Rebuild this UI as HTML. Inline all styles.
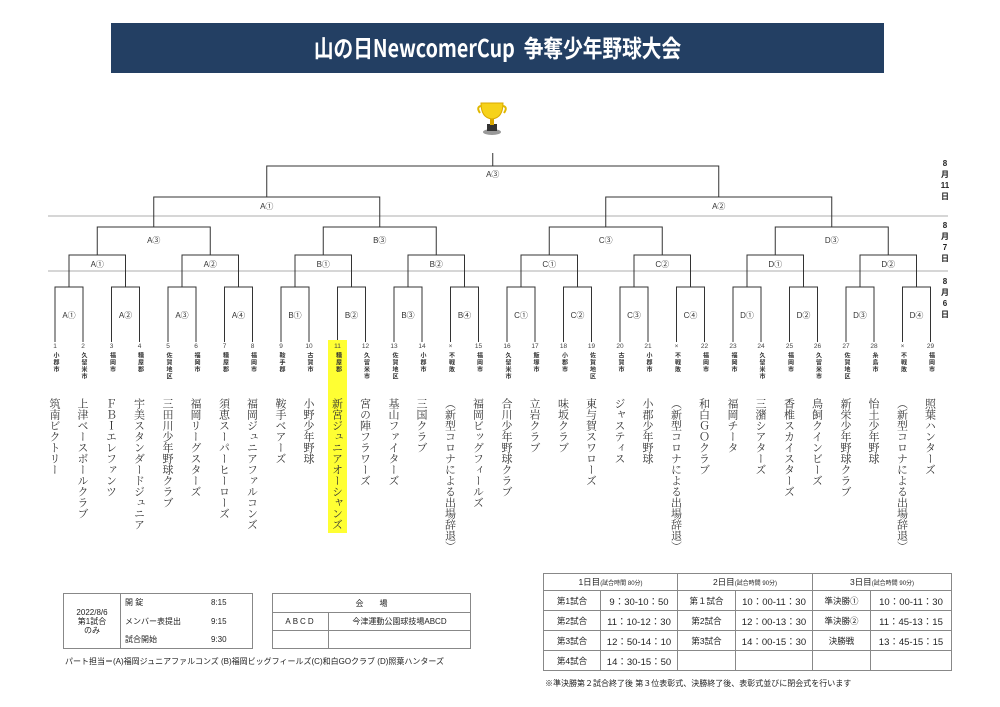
<!DOCTYPE html>
<html><head><meta charset="utf-8">
<style>
body{margin:0;background:#fff;}
#p{position:relative;width:1000px;height:707px;overflow:hidden;font-family:"Liberation Sans","Noto Sans CJK JP",sans-serif;color:#222;}
.hdr{position:absolute;left:111px;top:23px;width:773px;height:50px;background:#233f63;}
.ttl{position:absolute;left:0;top:9px;width:773px;text-align:center;color:#fff;font-weight:bold;font-size:24px;font-family:"Noto Sans CJK JP",sans-serif;transform:scaleX(0.82);line-height:30px;}
.t{position:absolute;top:343px;width:16px;height:200px;text-align:center;}
.n{font-size:6.5px;line-height:8px;color:#444;}
.c{position:absolute;top:9px;left:4px;writing-mode:vertical-rl;text-align:start;font-size:6px;font-weight:bold;line-height:8px;letter-spacing:1px;color:#333;height:40px;}
.nm{position:absolute;top:55px;left:1px;width:14px;height:200px;writing-mode:vertical-rl;text-align:start;font-family:"Noto Serif CJK SC","Noto Serif CJK JP",serif;font-size:11px;line-height:14px;letter-spacing:0;color:#333;}
.hl{position:absolute;left:328px;top:340px;width:19px;height:193px;background:#ffff33;}
.dt{position:absolute;left:939px;width:12px;text-align:center;font-size:8px;font-weight:bold;line-height:11px;}
table{border-collapse:collapse;position:absolute;font-size:8px;}
td{border:1px solid #888;text-align:center;padding:0;}
</style></head><body><div id="p">
<div class="hdr"><div class="ttl">山の日NewcomerCup&nbsp; 争奪少年野球大会</div></div>

<svg style="position:absolute;left:0;top:0" width="1000" height="707">
<g>
<ellipse cx="492" cy="132" rx="9" ry="3" fill="#999"/>
<rect x="487" y="124" width="10" height="7" fill="#333"/>
<rect x="490" y="117" width="4" height="8" fill="#d9a800"/>
<path d="M481 103 H503 Q503 118 492 119 Q481 118 481 103Z" fill="#f6d21a" stroke="#d9a800" stroke-width="1"/>
<path d="M481 106 Q476 107 480 113 M503 106 Q508 107 504 113" fill="none" stroke="#e0b800" stroke-width="2"/>
</g>
<g stroke="#c8c8c8" stroke-width="1.5"><line x1="48" y1="216" x2="948" y2="216"/><line x1="48" y1="271" x2="948" y2="271"/></g>
<g fill="none" stroke="#333" stroke-width="1">
<path d="M492.75 153V166"/>
<path d="M266.75 197V166H718.75V197"/>
<path d="M153.75 227V197H379.75V227M605.75 227V197H831.75V227"/>
<path d="M97.25 255V227H210.25V255M323.25 255V227H436.25V255M549.25 255V227H662.25V255M775.25 255V227H888.25V255"/>
<path d="M69 287V255H125.5V287M182 287V255H238.5V287M295 287V255H351.5V287M408 287V255H464.5V287M521 287V255H577.5V287M634 287V255H690.5V287M747 287V255H803.5V287M860 287V255H916.5V287"/>
<path d="M55 342V287H83V342M111.5 342V287H139.5V342M168 342V287H196V342M224.5 342V287H252.5V342M281 342V287H309V342M337.5 342V287H365.5V342M394 342V287H422V342M450.5 342V287H478.5V342M507 342V287H535V342M563.5 342V287H591.5V342M620 342V287H648V342M676.5 342V287H704.5V342M733 342V287H761V342M789.5 342V287H817.5V342M846 342V287H874V342M902.5 342V287H930.5V342"/>
</g>
<g font-size="8" text-anchor="middle" fill="#333" font-family="Liberation Sans,Noto Sans CJK JP,sans-serif">
<text x="492.75" y="177">A③</text>
<text x="266.75" y="209">A①</text><text x="718.75" y="209">A②</text>
<text x="153.75" y="243">A③</text><text x="379.75" y="243">B③</text><text x="605.75" y="243">C③</text><text x="831.75" y="243">D③</text>
<text x="97.25" y="267">A①</text><text x="210.25" y="267">A②</text><text x="323.25" y="267">B①</text><text x="436.25" y="267">B②</text><text x="549.25" y="267">C①</text><text x="662.25" y="267">C②</text><text x="775.25" y="267">D①</text><text x="888.25" y="267">D②</text>
<text x="69" y="318">A①</text><text x="125.5" y="318">A②</text><text x="182" y="318">A③</text><text x="238.5" y="318">A④</text><text x="295" y="318">B①</text><text x="351.5" y="318">B②</text><text x="408" y="318">B③</text><text x="464.5" y="318">B④</text><text x="521" y="318">C①</text><text x="577.5" y="318">C②</text><text x="634" y="318">C③</text><text x="690.5" y="318">C④</text><text x="747" y="318">D①</text><text x="803.5" y="318">D②</text><text x="860" y="318">D③</text><text x="916.5" y="318">D④</text>
</g>
</svg>

<div class="dt" style="top:158px">8<br>月<br>11<br>日</div>
<div class="dt" style="top:220px">8<br>月<br>7<br>日</div>
<div class="dt" style="top:276px">8<br>月<br>6<br>日</div>

<div class="hl"></div>

<div class="t" style="left:47px"><div class="n">1</div><div class="c">小郡市</div><div class="nm">筑南ビクトリー</div></div>
<div class="t" style="left:75px"><div class="n">2</div><div class="c">久留米市</div><div class="nm">上津ベースボールクラブ</div></div>
<div class="t" style="left:103.5px"><div class="n">3</div><div class="c">福岡市</div><div class="nm">ＦＢＩエレファンツ</div></div>
<div class="t" style="left:131.5px"><div class="n">4</div><div class="c">糟屋郡</div><div class="nm">宇美スタンダードジュニア</div></div>
<div class="t" style="left:160px"><div class="n">5</div><div class="c">佐賀地区</div><div class="nm">三田川少年野球クラブ</div></div>
<div class="t" style="left:188px"><div class="n">6</div><div class="c">福岡市</div><div class="nm">福岡リーグスターズ</div></div>
<div class="t" style="left:216.5px"><div class="n">7</div><div class="c">糟屋郡</div><div class="nm">須恵スーパーヒーローズ</div></div>
<div class="t" style="left:244.5px"><div class="n">8</div><div class="c">福岡市</div><div class="nm">福岡ジュニアファルコンズ</div></div>
<div class="t" style="left:273px"><div class="n">9</div><div class="c">鞍手郡</div><div class="nm">鞍手ベアーズ</div></div>
<div class="t" style="left:301px"><div class="n">10</div><div class="c">古賀市</div><div class="nm">小野少年野球</div></div>
<div class="t" style="left:329.5px"><div class="n">11</div><div class="c">糟屋郡</div><div class="nm">新宮ジュニアオーシャンズ</div></div>
<div class="t" style="left:357.5px"><div class="n">12</div><div class="c">久留米市</div><div class="nm">宮の陣フラワーズ</div></div>
<div class="t" style="left:386px"><div class="n">13</div><div class="c">佐賀地区</div><div class="nm">基山ファイターズ</div></div>
<div class="t" style="left:414px"><div class="n">14</div><div class="c">小郡市</div><div class="nm">三国クラブ</div></div>
<div class="t" style="left:442.5px"><div class="n">×</div><div class="c">不戦敗</div><div class="nm">（新型コロナによる出場辞退）</div></div>
<div class="t" style="left:470.5px"><div class="n">15</div><div class="c">福岡市</div><div class="nm">福岡ビッグフィールズ</div></div>
<div class="t" style="left:499px"><div class="n">16</div><div class="c">久留米市</div><div class="nm">合川少年野球クラブ</div></div>
<div class="t" style="left:527px"><div class="n">17</div><div class="c">飯塚市</div><div class="nm">立岩クラブ</div></div>
<div class="t" style="left:555.5px"><div class="n">18</div><div class="c">小郡市</div><div class="nm">味坂クラブ</div></div>
<div class="t" style="left:583.5px"><div class="n">19</div><div class="c">佐賀地区</div><div class="nm">東与賀スワローズ</div></div>
<div class="t" style="left:612px"><div class="n">20</div><div class="c">古賀市</div><div class="nm">ジャスティス</div></div>
<div class="t" style="left:640px"><div class="n">21</div><div class="c">小郡市</div><div class="nm">小郡少年野球</div></div>
<div class="t" style="left:668.5px"><div class="n">×</div><div class="c">不戦敗</div><div class="nm">（新型コロナによる出場辞退）</div></div>
<div class="t" style="left:696.5px"><div class="n">22</div><div class="c">福岡市</div><div class="nm">和白ＧＯクラブ</div></div>
<div class="t" style="left:725px"><div class="n">23</div><div class="c">福岡市</div><div class="nm">福岡チータ</div></div>
<div class="t" style="left:753px"><div class="n">24</div><div class="c">久留米市</div><div class="nm">三潴シアターズ</div></div>
<div class="t" style="left:781.5px"><div class="n">25</div><div class="c">福岡市</div><div class="nm">香椎スカイスターズ</div></div>
<div class="t" style="left:809.5px"><div class="n">26</div><div class="c">久留米市</div><div class="nm">鳥飼クインビーズ</div></div>
<div class="t" style="left:838px"><div class="n">27</div><div class="c">佐賀地区</div><div class="nm">新栄少年野球クラブ</div></div>
<div class="t" style="left:866px"><div class="n">28</div><div class="c">糸島市</div><div class="nm">怡土少年野球</div></div>
<div class="t" style="left:894.5px"><div class="n">×</div><div class="c">不戦敗</div><div class="nm">（新型コロナによる出場辞退）</div></div>
<div class="t" style="left:922.5px"><div class="n">29</div><div class="c">福岡市</div><div class="nm">照葉ハンターズ</div></div>

<table style="left:63px;top:593px;width:190px;height:56px;">
<tr style="height:18px"><td rowspan="3" style="width:56px;line-height:9px">2022/8/6<br>第1試合<br>のみ</td><td style="width:86px;text-align:left;padding-left:4px;border-bottom:none;border-right:none">開 錠</td><td style="border-left:none;border-bottom:none;text-align:left">8:15</td></tr>
<tr style="height:19px"><td style="text-align:left;padding-left:4px;border-top:none;border-bottom:none;border-right:none">メンバー表提出</td><td style="border:none;border-right:1px solid #888;text-align:left">9:15</td></tr>
<tr style="height:18px"><td style="text-align:left;padding-left:4px;border-top:none;border-right:none">試合開始</td><td style="border-left:none;border-top:none;text-align:left">9:30</td></tr>
</table>

<table style="left:272px;top:593px;width:199px;height:56px;">
<tr style="height:19px"><td colspan="2">会　　場</td></tr>
<tr style="height:18px"><td style="width:55px;letter-spacing:2px">ABCD</td><td>今津運動公園球技場ABCD</td></tr>
<tr style="height:18px"><td></td><td></td></tr>
</table>

<div style="position:absolute;left:65px;top:656px;font-size:8px;">パート担当＝(A)福岡ジュニアファルコンズ (B)福岡ビッグフィールズ(C)和白GOクラブ (D)照葉ハンターズ</div>

<table style="left:543px;top:573px;width:409px;height:98px;font-size:8.5px;">
<tr><td colspan="2">1日目<span style="font-size:6px">(試合時間 80分)</span></td><td colspan="2">2日目<span style="font-size:6px">(試合時間 90分)</span></td><td colspan="2">3日目<span style="font-size:6px">(試合時間 90分)</span></td></tr>
<tr><td style="width:56px">第1試合</td><td style="width:76px;font-size:9.5px">9：30-10：50</td><td style="width:57px">第１試合</td><td style="width:76px;font-size:9.5px">10：00-11：30</td><td style="width:57px">準決勝①</td><td style="font-size:9.5px">10：00-11：30</td></tr>
<tr><td>第2試合</td><td style="font-size:9.5px">11：10-12：30</td><td>第2試合</td><td style="font-size:9.5px">12：00-13：30</td><td>準決勝②</td><td style="font-size:9.5px">11：45-13：15</td></tr>
<tr><td>第3試合</td><td style="font-size:9.5px">12：50-14：10</td><td>第3試合</td><td style="font-size:9.5px">14：00-15：30</td><td>決勝戦</td><td style="font-size:9.5px">13：45-15：15</td></tr>
<tr><td>第4試合</td><td style="font-size:9.5px">14：30-15：50</td><td></td><td></td><td></td><td></td></tr>
</table>
<div style="position:absolute;left:545px;top:678px;font-size:8px;">※準決勝第２試合終了後 第３位表彰式、決勝終了後、表彰式並びに閉会式を行います</div>
</div></body></html>
